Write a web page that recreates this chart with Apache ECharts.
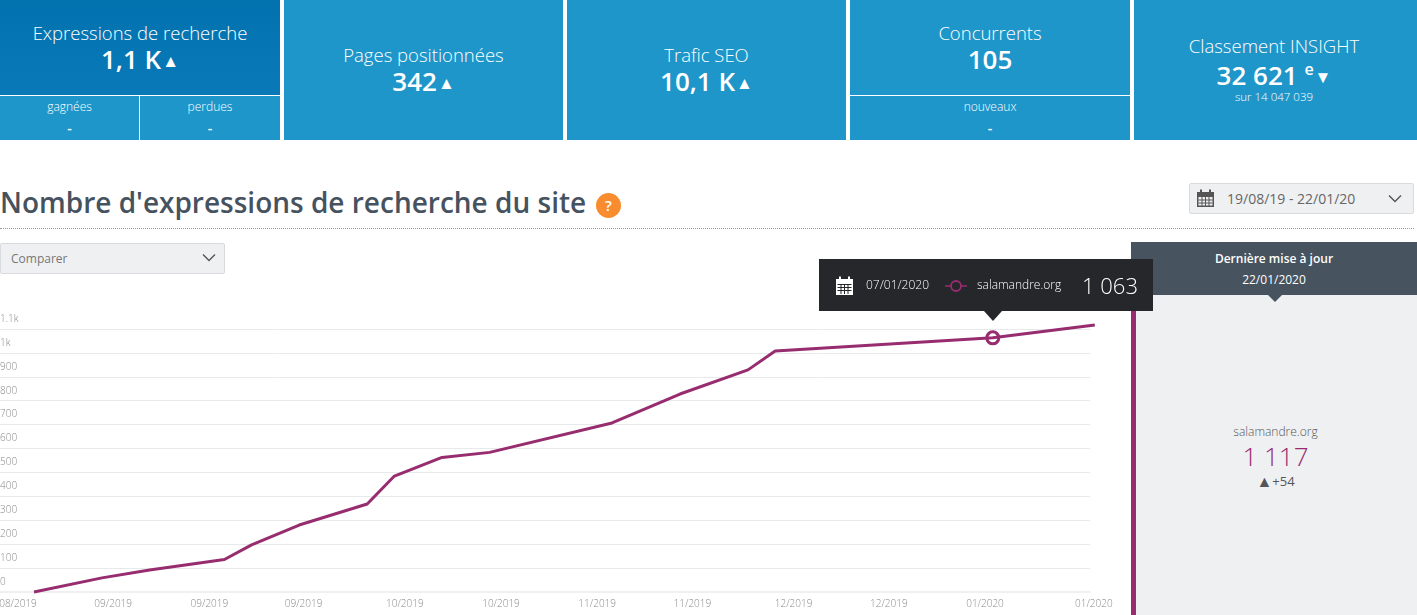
<!DOCTYPE html>
<html lang="fr">
<head>
<meta charset="utf-8">
<title>Nombre d'expressions de recherche du site</title>
<script src="https://cdn.jsdelivr.net/npm/echarts@6/dist/echarts.min.js"></script>
<style>
html, body { margin: 0; padding: 0; background: #fff; overflow: hidden; }
body { width: 1417px; height: 615px; position: relative; font-family: "Open Sans", sans-serif; color: #47525f; }
.abs { position: absolute; }
#chart { position: absolute; left: 0; top: 0; width: 1417px; height: 615px; z-index: 2; }
.tile { position: absolute; top: 0; height: 140px; background: #1e96ca; color: #fff; text-align: center; }
.tile.on .main { background: linear-gradient(#0272af, #0a79b8); }
.main { position: absolute; left: 0; right: 0; top: 0; height: 95px; }
.t { position: absolute; left: 0; right: 0; font-size: 18.5px; font-weight: 300; line-height: 24px; }
.v { position: absolute; left: 0; right: 0; font-size: 26px; font-weight: 600; line-height: 32px; }
.v i { font-style: normal; font-size: 17px; vertical-align: 2px; margin-left: 1px; }
.sub { position: absolute; top: 96px; height: 44px; font-size: 12px; font-weight: 300; line-height: 21px; }
.sub b { font-weight: 600; font-size: 14px; }
.line { position: absolute; left: 0; right: 0; top: 95px; height: 1px; background: #fff; }
.sel { position: absolute; height: 29px; background: #eff0f2; border: 1px solid #d8dadd; border-radius: 2px; font-size: 12px; color: #777; line-height: 29px; }
</style>
</head>
<body>

<div class="tile on" style="left:0;width:280px">
  <div class="main"></div>
  <div class="t" style="top:21px">Expressions de recherche</div>
  <div class="v" style="top:43px">1,1 K<i>▲</i></div>
  <div class="line"></div>
  <div class="abs" style="left:139px;top:96px;width:1px;height:44px;background:#fff"></div>
  <div class="sub" style="left:0;width:139px">gagnées<br><b>-</b></div>
  <div class="sub" style="left:140px;width:140px">perdues<br><b>-</b></div>
</div>
<div class="tile" style="left:284px;width:279px">
  <div class="t" style="top:43px">Pages positionnées</div>
  <div class="v" style="top:65px">342<i>▲</i></div>
</div>
<div class="tile" style="left:567px;width:279px">
  <div class="t" style="top:43px">Trafic SEO</div>
  <div class="v" style="top:65px">10,1 K<i>▲</i></div>
</div>
<div class="tile" style="left:850px;width:280px">
  <div class="t" style="top:21px">Concurrents</div>
  <div class="v" style="top:43px">105</div>
  <div class="line"></div>
  <div class="sub" style="left:0;width:280px">nouveaux<br><b>-</b></div>
</div>
<div class="tile" style="left:1134px;width:283px">
  <div class="t" style="top:34px;right:3px">Classement INSIGHT</div>
  <div class="v" style="top:59px;right:3px">32 621 <sup style="font-size:16px;line-height:0">e</sup><i>▼</i></div>
  <div class="abs" style="left:0;right:3px;top:89px;font-size:11.5px;font-weight:300;line-height:16px">sur 14 047 039</div>
</div>

<div class="abs" style="left:0;top:183px;font-size:28px;font-weight:600;line-height:38px;white-space:nowrap;color:#47525f">Nombre d'expressions de recherche du site</div>
<div class="abs" style="left:596px;top:193px;width:25px;height:25px;border-radius:50%;background:#f98c2e;color:#fff;text-align:center;font-size:15px;font-weight:600;line-height:25px">?</div>
<div class="abs" style="left:0;top:228px;width:1414px;border-top:1px dotted #999"></div>

<div class="sel" style="left:0;top:243px;width:223px"><span style="margin-left:10px">Comparer</span>
  <svg class="abs" style="left:201px;top:9px" width="14" height="10"><path d="M1 1.5 L7 7.5 L13 1.5" fill="none" stroke="#555" stroke-width="1.4"/></svg>
</div>
<div class="sel" style="left:1189px;top:183px;width:223px;font-size:14px;color:#666"><span style="margin-left:37px">19/08/19 - 22/01/20</span>
  <svg class="abs" style="left:6px;top:5px" width="19" height="19"><rect x="1" y="3" width="17" height="15" fill="#555"/><rect x="2.5" y="8" width="14" height="8.5" fill="#eff0f2"/><path d="M2.5 11H16.5M2.5 14H16.5M6 8V17M9.5 8V17M13 8V17" stroke="#555" stroke-width="1"/><path d="M5 0.5V5M14 0.5V5" stroke="#555" stroke-width="2"/></svg>
  <svg class="abs" style="left:198px;top:10px" width="14" height="10"><path d="M1 1.5 L7 7.5 L13 1.5" fill="none" stroke="#555" stroke-width="1.4"/></svg>
</div>

<div class="abs" style="left:1131px;top:242px;width:286px;height:373px;background:#eff0f2"></div>
<div class="abs" style="left:1131px;top:295px;width:5px;height:320px;background:#972c6f"></div>
<div class="abs" style="left:1131px;top:242px;width:286px;height:53px;background:#47535f;color:#fff;text-align:center;font-size:12px;line-height:21px">
  <div style="margin-top:6px;font-weight:600">Dernière mise à jour</div>
  <div>22/01/2020</div>
</div>
<div class="abs" style="left:1268px;top:295px;border-left:7px solid transparent;border-right:7px solid transparent;border-top:7px solid #47535f"></div>
<div class="abs" style="left:1134px;width:283px;top:423px;text-align:center;font-size:12px;font-weight:300;color:#555;line-height:18px">salamandre.org</div>
<div class="abs" style="left:1134px;width:283px;top:439px;text-align:center;font-size:26px;font-weight:300;color:#972c6f;line-height:34px">1 117</div>
<div class="abs" style="left:1134px;width:283px;top:473px;text-align:center;font-size:13px;color:#555;line-height:16px"><span style="font-size:16px;vertical-align:-1px">▲</span>+54</div>

<div id="chart"></div>

<script>
var dates = ['2019-08-19', '2019-08-29', '2019-09-05', '2019-09-16', '2019-09-20', '2019-09-27', '2019-10-07', '2019-10-11',
	'2019-10-18', '2019-10-25', '2019-11-12', '2019-11-22', '2019-12-02', '2019-12-06', '2020-01-07', '2020-01-22'];
var values = [0, 59, 92, 136, 197, 280, 368, 485, 563, 584, 707, 828, 929, 1008, 1063, 1117];
var tickDates = ['2019-08-19', '2019-09-02', '2019-09-16', '2019-09-30', '2019-10-14', '2019-10-28', '2019-11-11',
	'2019-11-25', '2019-12-09', '2019-12-23', '2020-01-06', '2020-01-22'];
var siteName = 'salamandre.org';
var hoverDate = '2020-01-07';
var hoverValue = 1063;
var hoverLabel = '1 063';

var purple = '#972c6f';
// decalage des libelles de dates par rapport au tick
var labelShift = [-16, -16, -15, -16, -10, -9, -8, -8, -2, -2, -1, -1];

function toTime(s) {
	return new Date(s).getTime();
}

var tickTimes = tickDates.map(toTime);

var rich = {};
labelShift.forEach(function(s, i) {
	rich['s' + i] = {
		color: '#8a8a8a',
		fontSize: 10,
		fontFamily: 'Open Sans',
		fontWeight: 300,
		padding: [0, -2 * s, 0, 0]
	};
});

function monthLabel(ts) {
	var d = new Date(ts);
	var m = d.getUTCMonth() + 1;
	return (m < 10 ? '0' + m : m) + '/' + d.getUTCFullYear();
}

function frDate(s) {
	return s.split('-').reverse().join('/');
}

var calendarIcon = '<svg width="19" height="20" style="vertical-align:middle"><rect x="1" y="3" width="17" height="16" fill="#fff"/>' +
	'<path d="M2.5 8.5H16.5M2.5 11.5H16.5M2.5 14.5H16.5M6 8V18M9.5 8V18M13 8V18" stroke="#26272b" stroke-width="1"/>' +
	'<path d="M5 0.5V5M14 0.5V5" stroke="#fff" stroke-width="2"/></svg>';
var siteIcon = '<svg width="22" height="14" style="vertical-align:middle"><path d="M0 7H22" stroke="' + purple + '" stroke-width="1.5"/>' +
	'<circle cx="11" cy="7" r="5" fill="#26272b" stroke="' + purple + '" stroke-width="1.8"/></svg>';

var myChart = echarts.init(document.getElementById('chart'));

// grille 0 : lignes de fond, plus courtes que la courbe. grille 1 : la courbe et les dates
var option = {
	animation: false,
	backgroundColor: 'transparent',
	grid: [{
		left: 0,
		top: 329,
		width: 1090,
		height: 263,
		outerBoundsMode: 'none'
	}, {
		left: 0,
		top: 329,
		width: 1108.4,
		height: 263,
		outerBoundsMode: 'none'
	}],
	tooltip: {
		trigger: 'item',
		alwaysShowContent: true,
		transitionDuration: 0,
		backgroundColor: '#26272b',
		borderWidth: 0,
		padding: 0,
		extraCssText: 'box-shadow:none;border-radius:0;overflow:visible;',
		position: function(point) {
			return [point[0] - 174, point[1] - 79];
		},
		formatter: function() {
			return '<div style="position:relative;width:334px;height:52px;color:#fff;font-family:\'Open Sans\';font-size:12px;font-weight:300;line-height:52px;white-space:nowrap">' +
				'<span style="position:absolute;left:16px;top:0">' + calendarIcon + '</span>' +
				'<span style="position:absolute;left:47px;top:0">' + frDate(hoverDate) + '</span>' +
				'<span style="position:absolute;left:126px;top:0">' + siteIcon + '</span>' +
				'<span style="position:absolute;left:158px;top:0">' + siteName + '</span>' +
				'<span style="position:absolute;left:263px;top:0;font-size:22px">' + hoverLabel + '</span>' +
				'<span style="position:absolute;left:165px;top:52px;width:0;height:0;border-left:9px solid transparent;border-right:9px solid transparent;border-top:10px solid #26272b"></span>' +
				'</div>';
		}
	},
	xAxis: [{
		gridIndex: 0,
		type: 'value',
		min: 0,
		max: 1,
		splitLine: { show: false },
		axisTick: { show: false },
		axisLabel: { show: false },
		axisLine: { show: true, lineStyle: { color: '#f0f0f2', width: 2 } }
	}, {
		gridIndex: 1,
		type: 'value',
		min: toTime('2019-08-14'),
		max: toTime('2020-01-24'),
		splitLine: { show: false },
		axisTick: { show: false },
		axisLine: { show: false },
		axisLabel: {
			margin: 7,
			customValues: tickTimes,
			formatter: function(value) {
				return '{s' + tickTimes.indexOf(value) + '|' + monthLabel(value) + '}';
			},
			rich: rich
		}
	}],
	yAxis: [{
		gridIndex: 0,
		type: 'value',
		min: 0,
		max: 1100,
		interval: 100,
		axisLine: { show: false },
		axisTick: { show: false },
		splitLine: { lineStyle: { color: '#e8e9eb', width: 1 } },
		axisLabel: {
			inside: true,
			margin: 0,
			color: '#8a8a8a',
			fontSize: 10,
			fontFamily: 'Open Sans',
			fontWeight: 300,
			verticalAlign: 'bottom',
			lineHeight: 20,
			formatter: function(v) {
				return v >= 1000 ? (v / 1000) + 'k' : v;
			}
		}
	}, {
		gridIndex: 1,
		type: 'value',
		min: 0,
		max: 1100,
		show: false
	}],
	series: [{
		name: siteName,
		type: 'line',
		xAxisIndex: 1,
		yAxisIndex: 1,
		clip: false,
		showSymbol: false,
		lineStyle: { color: purple, width: 3 },
		data: dates.map(function(d, i) {
			return [toTime(d), values[i]];
		})
	}, {
		name: siteName,
		type: 'scatter',
		xAxisIndex: 1,
		yAxisIndex: 1,
		clip: false,
		symbol: 'circle',
		symbolSize: 12,
		itemStyle: { color: '#fff', borderColor: purple, borderWidth: 3, opacity: 1 },
		data: [[toTime(hoverDate), hoverValue]]
	}]
};

myChart.setOption(option);
myChart.dispatchAction({ type: 'showTip', seriesIndex: 1, dataIndex: 0 });
</script>
</body>
</html>
